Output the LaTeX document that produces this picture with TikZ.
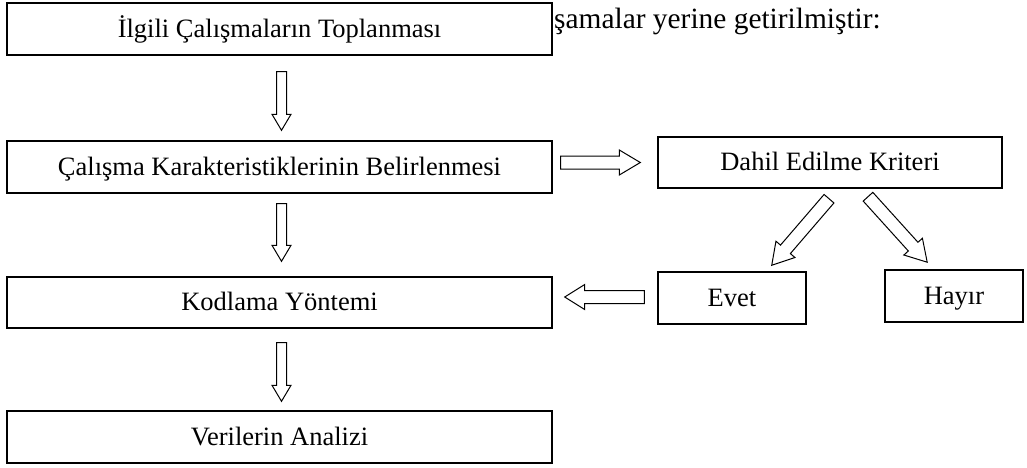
\documentclass[tikz,border=0pt]{standalone}
\usepackage{fontspec}
\setmainfont{Liberation Serif}
\usetikzlibrary{calc}
\tikzset{
  box/.style={draw=black, line width=1.4pt, fill=white, inner sep=0pt,
    font=\fontsize{26.5pt}{31pt}\selectfont, text height=20pt, text depth=4pt},
  barrow/.style={draw=black, line width=1pt, fill=white, line join=miter},
}
\newcommand{\blockarrow}[5]{% start, end, shaft half width, head half width, head length
  \path let \p1=(#1), \p2=(#2), \n1={atan2(\y2-\y1,\x2-\x1)}, \n2={veclen(\x2-\x1,\y2-\y1)} in
    \pgfextra{\pgfmathsetmacro\baang{\n1}\global\let\baang\baang
      \pgfmathsetmacro\balen{\n2}\global\let\balen\balen
      \xdef\bax{\x1}\xdef\bay{\y1}};
  \draw[barrow, shift={(\bax,\bay)}, rotate=\baang]
    (0pt,-#3pt) -- ({\balen pt-#5pt},-#3pt) -- ({\balen pt-#5pt},-#4pt) -- (\balen pt,0pt)
    -- ({\balen pt-#5pt},#4pt) -- ({\balen pt-#5pt},#3pt) -- (0pt,#3pt) -- cycle;
}
\begin{document}
\begin{tikzpicture}[x=1pt,y=-1pt]
\useasboundingbox (0,0) rectangle (1027,467);
\fill[white] (0,0) rectangle (1027,467);
% running text
\node[anchor=base west, inner sep=0pt, font=\fontsize{29.4pt}{34pt}\selectfont] (cap) at (554,28) {şamalar yerine getirilmiştir:};
% boxes
\node[box, minimum width=545pt, minimum height=52pt] (n1) at (279.5,29) {İlgili Çalışmaların Toplanması};
\node[box, minimum width=545pt, minimum height=52pt] (n2) at (279.5,167) {Çalışma Karakteristiklerinin Belirlenmesi};
\node[box, minimum width=545pt, minimum height=51pt] (n3) at (279.5,302.5) {Kodlama Yöntemi};
\node[box, minimum width=545pt, minimum height=52pt] (n4) at (279.5,437) {Verilerin Analizi};
\node[box, minimum width=344pt, minimum height=51pt] (dk) at (830,162.5) {Dahil Edilme Kriteri};
\node[box, minimum width=148pt, minimum height=52pt] (ev) at (732,298) {Evet};
\node[box, minimum width=138pt, minimum height=52pt] (hy) at (954,296) {Hayır};
% arrow end points
\coordinate (a1s) at ($(n1.south)+(2,16)$);
\coordinate (a1e) at ($(n2.north)+(2,-10)$);
\coordinate (a2s) at ($(n2.south)+(2,10)$);
\coordinate (a2e) at ($(n3.north)+(2,-15)$);
\coordinate (a3s) at ($(n3.south)+(2,14)$);
\coordinate (a3e) at ($(n4.north)+(2,-9)$);
\coordinate (ars) at ($(n2.east)+(8,-4.5)$);
\coordinate (are) at ($(dk.west)+(-17,0)$);
\coordinate (als) at ($(ev.west)+(-13,-1)$);
\coordinate (ale) at ($(n3.east)+(12,-5.5)$);
\coordinate (d1s) at ($(dk.south)+(-1,10)$);
\coordinate (d1e) at ($(ev.north east)+(-35,-6)$);
\coordinate (d2s) at ($(dk.south)+(38,8)$);
\coordinate (d2e) at ($(hy.north west)+(43,-7)$);
% arrows
\blockarrow{a1s}{a1e}{5}{9.5}{16}
\blockarrow{a2s}{a2e}{5}{9.5}{16}
\blockarrow{a3s}{a3e}{5}{9.5}{16}
\blockarrow{ars}{are}{6.5}{12.5}{21}
\blockarrow{als}{ale}{6.5}{12.5}{20}
\blockarrow{d1s}{d1e}{6.5}{12.5}{21}
\blockarrow{d2s}{d2e}{6.5}{12.5}{21}
\end{tikzpicture}
\end{document}
